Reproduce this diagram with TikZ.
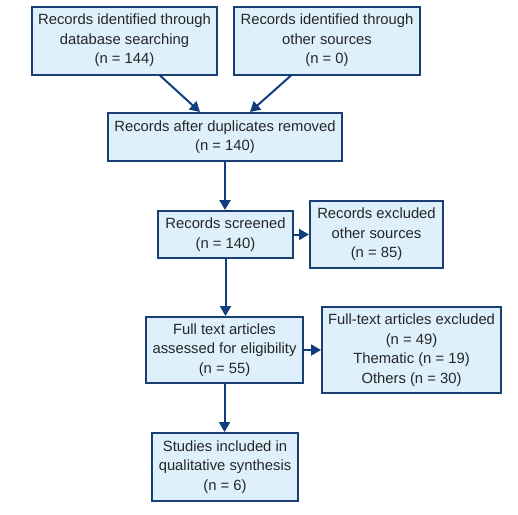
\documentclass[tikz,border=0pt]{standalone}
\usepackage{fontspec}
\setmainfont{Liberation Sans}
\usetikzlibrary{arrows.meta}
\definecolor{boxfill}{HTML}{DDF0FC}
\definecolor{boxline}{HTML}{1A3F75}
\definecolor{arrowc}{HTML}{0E3E7C}
\begin{document}
\begin{tikzpicture}[x=1pt,y=-1pt,
  box/.style={draw=boxline, fill=boxfill, line width=2pt, align=center, inner sep=0pt,
    font=\fontsize{14.8}{19.5}\selectfont, text=black!85},
  arr/.style={draw=arrowc, line width=2pt, -{Triangle[length=10pt,width=11pt]}}]
\useasboundingbox (0,0) rectangle (518,514);
\node[box, minimum width=185pt, minimum height=68pt] (b1) at (124.5,40.5) {Records identified through\\database searching\\(n = 144)};
\node[box, minimum width=186pt, minimum height=68pt] (b2) at (327,40.5) {Records identified through\\other sources\\(n = 0)};
\node[box, minimum width=234pt, minimum height=48pt] (b3) at (225,137) {Records after duplicates removed\\(n = 140)};
\node[box, minimum width=135pt, minimum height=47pt] (b4) at (225.5,234.5) {Records screened\\(n = 140)};
\node[box, minimum width=133pt, minimum height=67pt] (b5) at (376.5,234.5) {Records excluded\\other sources\\(n = 85)};
\node[box, minimum width=157pt, minimum height=66pt] (b6) at (224.5,350) {Full text articles\\assessed for eligibility\\(n = 55)};
\node[box, minimum width=179pt, minimum height=86pt] (b7) at (411.5,350) {Full-text articles excluded\\(n = 49)\\Thematic (n = 19)\\Others (n = 30)};
\node[box, minimum width=146pt, minimum height=68pt] (b8) at (225,467) {Studies included in\\qualitative synthesis\\(n = 6)};
\draw[arr] ([xshift=35.5pt]b1.south) -- ([xshift=-25pt]b3.north);
\draw[arr] ([xshift=-36pt]b2.south) -- ([xshift=25pt]b3.north);
\draw[arr] (b3.south) -- (b3.south |- b4.north);
\draw[arr] (b4.east) -- (b4.east -| b5.west);
\draw[arr] (b4.south) -- (b4.south |- b6.north);
\draw[arr] (b6.east) -- (b6.east -| b7.west);
\draw[arr] (b6.south) -- (b6.south |- b8.north);
\end{tikzpicture}
\end{document}
